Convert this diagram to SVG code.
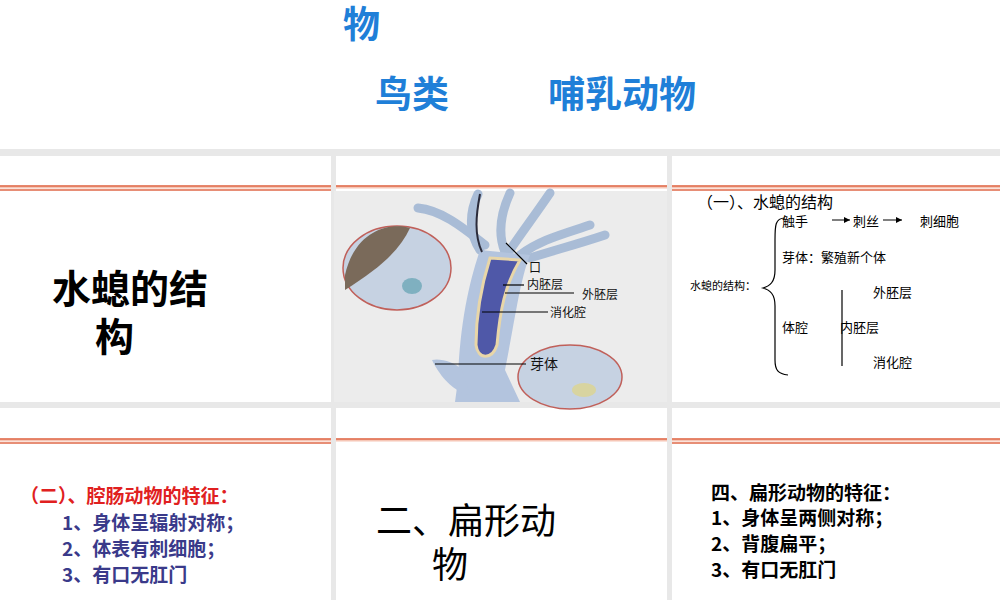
<svg xmlns="http://www.w3.org/2000/svg" width="1000" height="600" viewBox="0 0 1000 600">
<style>
.t{font-family:"Noto Sans CJK SC","Liberation Sans",sans-serif}
.blue{fill:#1f7fd8;font-weight:bold;font-size:37px}
.big{font-size:36px;fill:#000}
.sm{font-size:13px;fill:#000}
.lbl{font-size:12px;fill:#111}
.ol{stroke:#e06a4a;stroke-width:1.5}
.ol2{stroke:#f6c6b6;stroke-width:3}
.ln{stroke:#000;stroke-width:1.2;fill:none}
</style>
<defs>
<marker id="ar" viewBox="0 0 6 6" refX="6" refY="3" markerWidth="6" markerHeight="6" orient="auto"><path d="M0,0L6,3L0,6z" fill="#000"/></marker>
</defs>
<rect width="1000" height="600" fill="#e8e8e8"/>
<rect x="0" y="0" width="1000" height="149" fill="#fff"/>
<g id="header" class="t">
<text x="343" y="38" class="blue">物</text>
<text x="375" y="108" class="blue">鸟类</text>
<text x="548" y="108" class="blue">哺乳动物</text>
</g>
<g id="cells">
<rect x="0" y="156" width="331" height="246" fill="#fff"/>
<rect x="336" y="156" width="331" height="246" fill="#fff"/>
<rect x="672" y="156" width="328" height="246" fill="#fff"/>
<rect x="0" y="408" width="331" height="192" fill="#fff"/>
<rect x="336" y="408" width="331" height="192" fill="#fff"/>
<rect x="672" y="408" width="328" height="192" fill="#fff"/>
</g>
<g id="rules">
<path class="ol2" d="M0,187H331M336,187H667M672,187H1000M0,440H331M336,440H667M672,440H1000"/>
<path class="ol" d="M0,186H331M336,186H667M672,186H1000M0,190H331M672,190H1000M0,439H331M336,439H667M672,439H1000M0,443H331M672,443H1000"/>
</g>
<g id="cell1" class="t"><text x="52" y="303" font-size="39" font-weight="bold" fill="#000">水螅的结</text><text x="95" y="351" font-size="39" font-weight="bold" fill="#000">构</text></g>
<g id="hydra">
<rect x="334" y="191" width="333" height="211" fill="#ececec"/>
<g fill="none" stroke="#a9bcd6" stroke-width="9" stroke-linecap="round">
<path d="M478,194C468,215 470,235 480,250"/>
<path d="M418,208C440,210 460,225 485,245"/>
<path d="M510,193C500,215 498,235 505,252"/>
<path d="M550,193C535,215 520,235 510,250"/>
<path d="M590,225C560,235 540,240 520,255"/>
<path d="M605,235C575,245 555,250 530,258"/>
</g>
<path d="M480,250C470,280 460,320 458,380L455,402H520L505,370C515,320 520,280 530,255Z" fill="#b3c4de"/>
<path d="M490,258C480,290 476,320 476,345C478,360 492,360 497,345C500,310 505,285 520,260Z" fill="#4f58a8" stroke="#e8d6a8" stroke-width="3"/>
<path d="M470,395C445,390 432,360 432,360C440,358 455,362 462,370" fill="#b3c4de"/>
<path d="M480,194C476,215 474,235 482,252" stroke="#2b2b3a" stroke-width="2" fill="none"/>
<ellipse cx="397" cy="268" rx="54" ry="42" fill="#c6d2e2" stroke="#c0605a" stroke-width="1.5"/>
<path d="M345,275C355,230 390,222 410,228C400,250 380,268 345,290Z" fill="#7a6a5a"/>
<ellipse cx="412" cy="286" rx="10" ry="8" fill="#7fb0c0"/>
<ellipse cx="570" cy="377" rx="52" ry="32" fill="#c6d2e2" stroke="#c0605a" stroke-width="1.5"/>
<ellipse cx="584" cy="390" rx="12" ry="7" fill="#d8d4a0"/>
<g stroke="#000" stroke-width="1.2">
<line x1="506" y1="243" x2="527" y2="264"/>
<line x1="503" y1="285" x2="524" y2="285"/>
<line x1="505" y1="293" x2="574" y2="293"/>
<line x1="482" y1="312" x2="548" y2="312"/>
<line x1="435" y1="364" x2="526" y2="364"/>
</g>
<g class="t lbl">
<text x="529" y="272">口</text>
<text x="527" y="289">内胚层</text>
<text x="582" y="299">外胚层</text>
<text x="550" y="317">消化腔</text>
<text x="530" y="369" font-size="14">芽体</text>
</g>
</g>
<g id="structure" class="t">
<text x="697" y="208" font-size="16" fill="#000">（一）、水螅的结构</text>
<text x="690" y="290" font-size="11" fill="#000">水螅的结构：</text>
<path class="ln" d="M785,218C775,218 775,226 775,240V270C775,282 770,286 763,288C770,290 775,294 775,306V360C775,370 778,374 788,375"/>
<path class="ln" d="M842,290V366"/>
<text x="782" y="226" class="sm">触手</text>
<line x1="832" y1="220" x2="850" y2="220" stroke="#000" marker-end="url(#ar)"/>
<text x="853" y="226" class="sm">刺丝</text>
<line x1="883" y1="220" x2="902" y2="220" stroke="#000" marker-end="url(#ar)"/>
<text x="920" y="226" class="sm">刺细胞</text>
<text x="782" y="262" class="sm">芽体：繁殖新个体</text>
<text x="873" y="297" class="sm">外胚层</text>
<text x="782" y="332" class="sm">体腔</text>
<text x="840" y="332" class="sm">内胚层</text>
<text x="873" y="367" class="sm">消化腔</text>
</g>
<g id="cell4" class="t" font-size="19" font-weight="bold">
<text x="20" y="503" fill="#e02020">（二）、腔肠动物的特征：</text>
<text x="62" y="530" fill="#3a3a8a">1、身体呈辐射对称；</text>
<text x="62" y="556" fill="#3a3a8a">2、体表有刺细胞；</text>
<text x="62" y="582" fill="#3a3a8a">3、有口无肛门</text>
</g>
<g id="cell5" class="t"><text x="376" y="534" class="big">二、扁形动</text><text x="432" y="578" class="big">物</text></g>
<g id="cell6" class="t" font-size="19" font-weight="bold" fill="#000">
<text x="711" y="500">四、扁形动物的特征：</text>
<text x="711" y="525">1、身体呈两侧对称；</text>
<text x="711" y="551">2、背腹扁平；</text>
<text x="711" y="577">3、有口无肛门</text>
</g>
</svg>
